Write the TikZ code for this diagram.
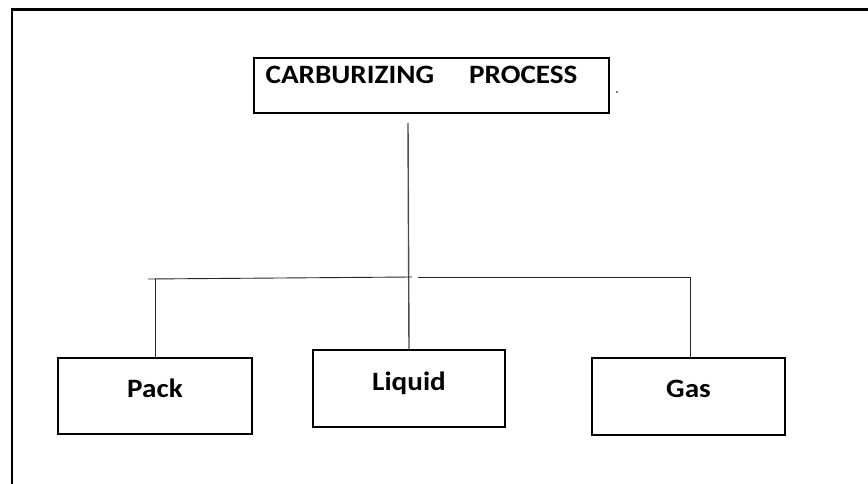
\documentclass[tikz,border=0pt]{standalone}
\usepackage{fontspec}
\newfontfamily\boxfont{Carlito}[FakeStretch=1.1]
\tikzset{
  frame/.style={line width=2.5pt, black},
  box/.style={draw, line width=2pt, rectangle, anchor=north west, inner sep=0pt,
              font=\boxfont\bfseries\fontsize{26.5}{30}\selectfont, text height=17pt},
  conn/.style={line width=0.9pt, black!85},
  trunk/.style={line width=1.4pt, black!70},
}
\begin{document}
\begin{tikzpicture}[x=1pt,y=-1pt]
\useasboundingbox (0,0) rectangle (868,484);
\draw[frame] (12,484) -- (12,9.5) -- (868,9.5);

\node[box, minimum width=355pt, minimum height=55pt, text depth=20pt] (top) at (253,57)
  {CARBURIZING\kern35pt PROCESS\kern20pt\relax};
\node[box, minimum width=194pt, minimum height=76pt, text depth=15pt] (pack) at (57,357) {Pack};
\node[box, minimum width=192pt, minimum height=77pt, text depth=14pt] (liquid) at (312,349) {Liquid};
\node[box, minimum width=193pt, minimum height=77pt, text depth=15pt] (gas) at (591,357) {Gas};

\coordinate (tstart) at (408,123);
\coordinate (hl) at (148,279);
\coordinate (hm) at (412,277);
\coordinate (hr) at (418,277);
\coordinate (hre) at (690,277);

\draw[trunk] (tstart) -- (liquid.north);
\draw[conn] (hl) -- (hm);
\draw[conn] (pack.north |- hl) -- (pack.north);
\draw[conn] (hr) -- (hre) -- (hre |- gas.north);

\fill (617,92) circle (0.9);
\end{tikzpicture}
\end{document}
